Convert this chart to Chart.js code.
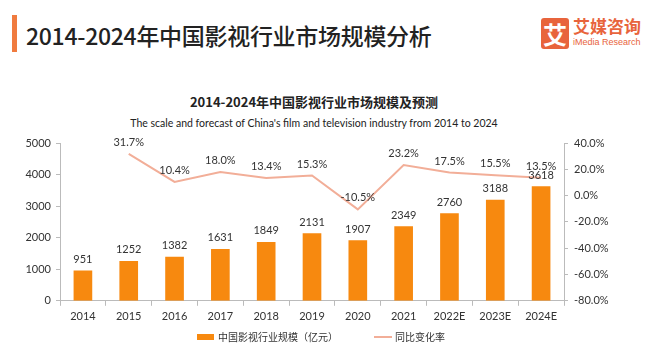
<!DOCTYPE html>
<html><head><meta charset="utf-8">
<script src="https://cdn.jsdelivr.net/npm/chart.js@4/dist/chart.umd.min.js"></script>
<style>
html,body{margin:0;padding:0;background:#fff;width:658px;height:357px;overflow:hidden;font-family:"Noto Sans CJK SC","Noto Sans",sans-serif;}
#wrap{position:absolute;left:0;top:0;width:658px;height:357px;}
.abs{position:absolute;white-space:nowrap;}
</style></head><body>
<div class="abs" style="left:12px;top:15px;width:5px;height:37px;background:#F07B3F;"></div>
<div class="abs" style="left:26px;top:18px;font-size:23px;line-height:34px;color:#222;font-weight:500;letter-spacing:-0.3px;">2014-2024年中国影视行业市场规模分析</div>
<div class="abs" style="left:541px;top:18px;width:28px;height:31px;background:#E8643C;border-radius:3px;color:#fff;font-size:24px;line-height:31px;text-align:center;font-weight:700;">艾</div>
<div class="abs" style="left:573px;top:15px;font-size:17px;line-height:22px;color:#E8643C;font-weight:700;">艾媒咨询</div>
<div class="abs" style="left:573px;top:37px;font-size:9px;line-height:11px;color:#E8643C;font-family:'Liberation Sans Narrow','Liberation Sans',sans-serif;">iMedia Research</div>
<div class="abs" style="left:0;width:628px;top:93px;text-align:center;font-size:13px;line-height:18px;font-weight:700;color:#222;">2014-2024年中国影视行业市场规模及预测</div>
<div class="abs" style="left:0;width:628px;top:116px;text-align:center;font-size:10.5px;line-height:15px;color:#222;font-family:'Lato','Open Sans',sans-serif;">The scale and forecast of China's film and television industry from 2014 to 2024</div>
<div id="wrap"><canvas id="c" width="658" height="357"></canvas></div>
<div class="abs" style="left:197px;top:334px;width:17px;height:6px;background:#F7890F;"></div>
<div class="abs" style="left:218px;top:329px;font-size:10px;line-height:15px;color:#333;">中国影视行业规模（亿元）</div>
<div class="abs" style="left:374px;top:336px;width:18px;height:2px;background:#F2AE98;"></div>
<div class="abs" style="left:395px;top:329px;font-size:10px;line-height:15px;color:#333;">同比变化率</div>
<script>
const categories = ['2014','2015','2016','2017','2018','2019','2020','2021','2022E','2023E','2024E'];
const marketSize = [951,1252,1382,1631,1849,2131,1907,2349,2760,3188,3618];
const growthRate = [null,31.7,10.4,18.0,13.4,15.3,-10.5,23.2,17.5,15.5,13.5];
const leftTicks = [0,1000,2000,3000,4000,5000];
const rightTicks = [-80,-60,-40,-20,0,20,40];

const labelPlugin = {
  id:'labels',
  afterDatasetsDraw(chart){
    const ctx = chart.ctx;
    ctx.save();
    ctx.font = '11px Lato, "Open Sans", sans-serif';
    ctx.fillStyle = '#333';
    ctx.textAlign = 'center';
    ctx.textBaseline = 'bottom';
    chart.getDatasetMeta(0).data.forEach((el,i)=>{
      ctx.fillText(String(marketSize[i]), el.x, el.y - 6);
    });
    chart.getDatasetMeta(1).data.forEach((el,i)=>{
      if (growthRate[i]===null) return;
      ctx.fillText(growthRate[i].toFixed(1)+'%', el.x, el.y - 6);
    });
    ctx.restore();
  }
};

new Chart(document.getElementById('c'), {
  data:{
    labels: categories,
    datasets:[
      {type:'bar', data: marketSize, backgroundColor:'#F7890F', barThickness:18, yAxisID:'y', order:2},
      {type:'line', data: growthRate, borderColor:'#F2AE98', borderWidth:2, pointRadius:0, tension:0, yAxisID:'y1', order:1, spanGaps:false}
    ]
  },
  options:{
    responsive:false, animation:false,
    layout:{padding:{top:143, bottom:30, left:0, right:0}},
    plugins:{legend:{display:false}, tooltip:{enabled:false}, title:{display:false}},
    scales:{
      x:{
        grid:{display:true, drawOnChartArea:false, offset:true, tickLength:5, color:'#BBB'},
        border:{color:'#BBB'},
        ticks:{font:{family:'Lato, "Open Sans", sans-serif', size:11}, color:'#333', padding:4}
      },
      y:{
        position:'left', min:0, max:5000,
        afterBuildTicks(s){ s.ticks = leftTicks.map(v=>({value:v})); },
        afterFit(s){ s.width = 60; },
        grid:{display:true, drawOnChartArea:false, tickLength:4, color:'#BBB'},
        border:{color:'#BBB'},
        ticks:{font:{family:'Lato, "Open Sans", sans-serif', size:11}, color:'#333', padding:5,
          callback:(v)=>String(v)}
      },
      y1:{
        position:'right', min:-80, max:40,
        afterBuildTicks(s){ s.ticks = rightTicks.map(v=>({value:v})); },
        afterFit(s){ s.width = 94; },
        grid:{display:true, drawOnChartArea:false, tickLength:4, color:'#BBB'},
        border:{color:'#BBB'},
        ticks:{font:{family:'Lato, "Open Sans", sans-serif', size:11}, color:'#333', padding:6,
          callback:(v)=>Number(v).toFixed(1)+'%'}
      }
    }
  },
  plugins:[labelPlugin]
});
</script>
</body></html>
